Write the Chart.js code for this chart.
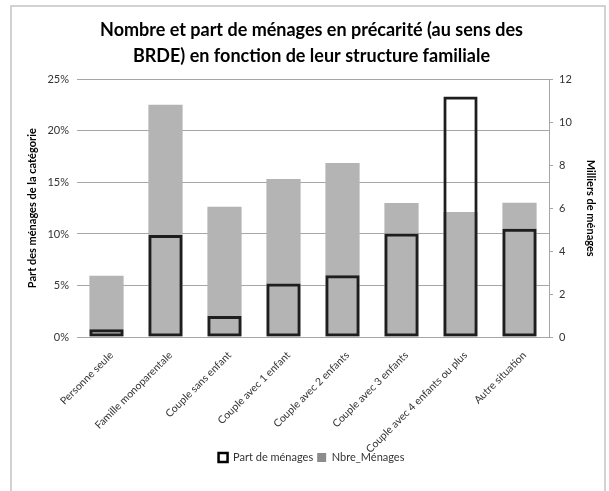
<!DOCTYPE html>
<html>
<head>
<meta charset="utf-8">
<script src="https://cdn.jsdelivr.net/npm/chart.js@4.4.0/dist/chart.umd.min.js"></script>
<style>
  html, body { margin: 0; padding: 0; background: #fff; }
  #wrap { width: 609px; height: 491px; position: relative; }
</style>
</head>
<body>
<div id="wrap"><canvas id="chart" width="609" height="491"></canvas></div>
<script>
// Catégories et valeurs
const categories = ['Personne seule', 'Famille monoparentale', 'Couple sans enfant', 'Couple avec 1 enfant',
    'Couple avec 2 enfants', 'Couple avec 3 enfants', 'Couple avec 4 enfants ou plus', 'Autre situation'];
const partMenages = [0.75, 9.9, 2.05, 5.2, 6.0, 10.05, 23.35, 10.5];   // % de la catégorie
const nbreMenages = [2.85, 10.82, 6.07, 7.36, 8.11, 6.24, 5.82, 6.25]; // milliers

const FONT = 'Lato, "Open Sans", sans-serif';
const GRID = '#a6a6a6';

// cadre gris autour du graphique
const framePlugin = {
    id: 'frame',
    beforeDraw(chart) {
        const c = chart.ctx;
        c.save();
        c.strokeStyle = '#c4c4c4';
        c.lineWidth = 1.5;
        c.strokeRect(11, 6, 594, 500);
        c.restore();
    }
};

const ctx = document.getElementById('chart').getContext('2d');
new Chart(ctx, {
    type: 'bar',
    data: {
        labels: categories,
        datasets: [{
            label: 'Part de ménages',
            data: partMenages,
            yAxisID: 'y',
            backgroundColor: 'rgba(0,0,0,0)',
            borderColor: '#1e1e1e',
            borderWidth: 3,
            borderSkipped: false,
            grouped: false,
            order: 0
        }, {
            label: 'Nbre_Ménages',
            data: nbreMenages,
            yAxisID: 'y1',
            backgroundColor: '#b4b4b4',
            borderWidth: 0,
            grouped: false,
            order: 1
        }]
    },
    options: {
        responsive: false,
        animation: false,
        layout: { padding: { left: 22, right: 8, top: 8, bottom: 18 } },
        datasets: { bar: { categoryPercentage: 1, barPercentage: 0.58 } },
        plugins: {
            title: {
                display: true,
                text: ['Nombre et part de ménages en précarité (au sens des', 'BRDE) en fonction de leur structure familiale'],
                color: '#000',
                font: { family: FONT, size: 18, weight: 'bold', lineHeight: 1.4 },
                padding: { top: 10, bottom: 11 }
            },
            legend: {
                display: true,
                position: 'bottom',
                labels: {
                    font: { family: FONT, size: 11 },
                    color: '#333',
                    boxWidth: 9,
                    boxHeight: 9,
                    padding: 4,
                    generateLabels(chart) {
                        return [{
                            text: 'Part de ménages', fillStyle: '#fff', strokeStyle: '#000',
                            lineWidth: 2.5, datasetIndex: 0, fontColor: '#333'
                        }, {
                            text: 'Nbre_Ménages', fillStyle: '#8c8c8c', strokeStyle: '#8c8c8c',
                            lineWidth: 0, datasetIndex: 1, fontColor: '#333'
                        }];
                    }
                }
            },
            tooltip: { enabled: false }
        },
        scales: {
            x: {
                grid: { display: false },
                border: { display: true, color: GRID },
                ticks: {
                    minRotation: 45, maxRotation: 45, autoSkip: false,
                    labelOffset: 5, padding: 4,
                    font: { family: FONT, size: 10.5 }, color: '#333'
                },
                afterFit(scale) {
                    scale.height = 111;
                    // laisser déborder les longues étiquettes inclinées
                    scale._computeLabelArea = () => undefined;
                }
            },
            y: {
                position: 'left',
                min: 0, max: 25,
                ticks: {
                    stepSize: 5, callback: v => v + '%', padding: 8,
                    font: { family: FONT, size: 11 }, color: '#333'
                },
                grid: { color: GRID, drawTicks: false },
                border: { display: false },
                title: {
                    display: true, text: 'Part des ménages de la catégorie', color: '#000',
                    font: { family: FONT, size: 11, weight: 'bold' }, padding: { top: 4, bottom: 0 }
                },
                afterFit(scale) { scale.width = 55; }
            },
            y1: {
                position: 'right',
                min: 0, max: 12,
                ticks: {
                    stepSize: 2, padding: 6,
                    font: { family: FONT, size: 11 }, color: '#333'
                },
                grid: { drawOnChartArea: false, drawTicks: true, tickLength: 4, color: GRID },
                border: { display: true, color: GRID },
                title: {
                    display: true, text: 'Milliers de ménages', color: '#000',
                    font: { family: FONT, size: 11, weight: 'bold' }, padding: { top: 4, bottom: 0 }
                },
                afterFit(scale) { scale.width = 52; }
            }
        }
    },
    plugins: [framePlugin]
});
</script>
</body>
</html>
